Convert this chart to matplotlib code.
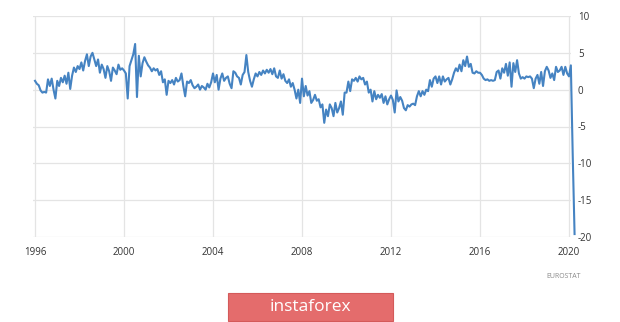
import numpy as np
import matplotlib
matplotlib.use("Agg")
import matplotlib.pyplot as plt
from matplotlib.patches import Rectangle

# monthly values, Jan..Dec
years = list(range(1996, 2020))
values_by_year = {
    1996: [1.2, 0.8, 0.6, -0.1, -0.4, -0.3, -0.4, 1.4, 0.5, 1.5, 0.0, -1.2],
    1997: [1.2, 0.5, 1.6, 1.0, 1.9, 0.8, 2.3, 0.1, 1.9, 3.0, 2.4, 3.2],
    1998: [2.8, 3.7, 2.6, 3.9, 4.8, 3.2, 4.5, 5.0, 4.1, 3.2, 4.1, 2.3],
    1999: [3.4, 2.8, 1.6, 3.2, 2.5, 1.2, 3.0, 2.6, 2.1, 3.4, 2.7, 2.9],
    2000: [2.6, 2.2, -1.2, 3.2, 4.0, 4.8, 6.2, -1.0, 4.6, 1.8, 3.6, 4.4],
    2001: [3.8, 3.3, 3.0, 2.5, 2.9, 2.6, 2.8, 2.0, 2.5, 1.0, 1.4, -0.7],
    2002: [1.2, 0.9, 1.3, 0.7, 1.6, 1.1, 1.3, 2.2, 0.5, -0.9, 1.1, 0.9],
    2003: [1.3, 0.6, 0.2, 0.4, 0.7, 0.0, 0.5, 0.3, 0.0, 0.8, 0.3, 1.0],
    2004: [2.2, 1.0, 2.0, 0.0, 1.5, 2.2, 1.2, 1.6, 1.8, 0.8, 0.2, 2.5],
    2005: [2.3, 1.8, 1.6, 0.7, 2.0, 2.4, 4.7, 2.4, 1.2, 0.4, 1.4, 2.2],
    2006: [1.8, 2.4, 2.0, 2.6, 2.2, 2.7, 2.3, 2.8, 2.1, 2.9, 1.8, 1.6],
    2007: [2.6, 1.5, 2.1, 1.2, 0.9, 1.4, 0.4, 0.9, 0.0, -1.2, 0.0, -1.8],
    2008: [1.5, -0.9, 0.5, -0.8, -0.2, -1.8, -1.4, -0.7, -1.5, -1.3, -2.4, -2.0],
    2009: [-4.5, -2.7, -3.6, -2.0, -2.5, -3.6, -1.8, -3.1, -2.5, -1.6, -3.4, -0.4],
    2010: [-0.4, 1.1, -0.2, 1.4, 1.2, 1.6, 1.1, 1.8, 1.4, 1.6, 0.7, 1.1],
    2011: [-0.4, 0.0, -1.6, -0.2, -1.3, -0.7, -1.1, -0.6, -1.8, -0.9, -2.0, -1.3],
    2012: [-0.8, -1.4, -3.1, -0.1, -1.6, -1.0, -1.5, -2.5, -2.8, -2.1, -2.3, -2.0],
    2013: [-1.9, -2.1, -0.9, -0.2, -0.9, -0.2, -0.7, 0.0, -0.2, 1.3, 0.4, 1.5],
    2014: [1.8, 0.9, 1.8, 0.7, 1.8, 1.1, 1.4, 1.6, 0.7, 1.4, 2.3, 2.9],
    2015: [2.5, 3.4, 2.5, 4.0, 3.2, 4.5, 3.1, 3.5, 2.3, 2.2, 2.5, 2.3],
    2016: [2.3, 2.0, 1.5, 1.3, 1.4, 1.2, 1.3, 1.2, 1.3, 2.4, 2.6, 1.5],
    2017: [2.9, 2.3, 3.5, 1.9, 3.7, 0.4, 3.6, 2.4, 4.0, 2.2, 1.5, 1.7],
    2018: [1.5, 1.8, 1.7, 1.8, 1.5, 0.2, 1.5, 2.0, 0.8, 2.4, 0.5, 2.5],
    2019: [3.1, 2.6, 1.6, 2.2, 1.3, 3.1, 2.4, 2.6, 3.1, 2.0, 3.1, 2.2],
}
values_2020 = [1.8, 3.3, -8.8, -19.6]

x_ticks = [1996, 2000, 2004, 2008, 2012, 2016, 2020]
y_ticks = [-20, -15, -10, -5, 0, 5, 10]

# build time axis
t = []
v = []
for yr in years:
    for m, val in enumerate(values_by_year[yr]):
        t.append(yr + m / 12)
        v.append(val)
for m, val in enumerate(values_2020):
    t.append(2020 + m / 12)
    v.append(val)

plt.rcParams['font.family'] = ['Open Sans', 'DejaVu Sans']
plt.rcParams['axes.unicode_minus'] = False

fig = plt.figure(figsize=(6.2, 3.22), dpi=100)
ax = fig.add_axes([33 / 620, 1 - 237 / 322, (571 - 33) / 620, (237 - 16) / 322])

ax.plot(t, v, color='#4583c2', linewidth=1.5, clip_on=False, zorder=3,
        solid_joinstyle='round')

ax.set_xlim(1996 - 2 / 22.25, 2020 + 2 / 22.25)
ax.set_ylim(-20, 10)
ax.set_xticks(x_ticks)
ax.set_yticks(y_ticks)
ax.yaxis.tick_right()
ax.grid(True, color='#e4e4e4', linewidth=0.9)
ax.set_axisbelow(True)
for s in ax.spines.values():
    s.set_visible(False)
ax.tick_params(axis='both', length=0, labelsize=7, colors='#333333')
ax.tick_params(axis='x', pad=7)
ax.tick_params(axis='y', pad=5)

# source note
fig.text(564 / 620, 1 - 276 / 322, 'EUROSTAT', fontsize=5, color='#8a8a8a',
         ha='center', va='center')

# logo banner
fig.patches.append(Rectangle((228 / 620, 1 - 321 / 322), (393 - 228) / 620, (321 - 293) / 322,
                             transform=fig.transFigure, facecolor='#e46c6c',
                             edgecolor='#d45a5a', linewidth=0.8))
fig.text(310 / 620, 1 - 307 / 322, 'instaforex', fontsize=12.5, color='white',
         ha='center', va='center')

fig.savefig('out.png', dpi=100, facecolor='white')
